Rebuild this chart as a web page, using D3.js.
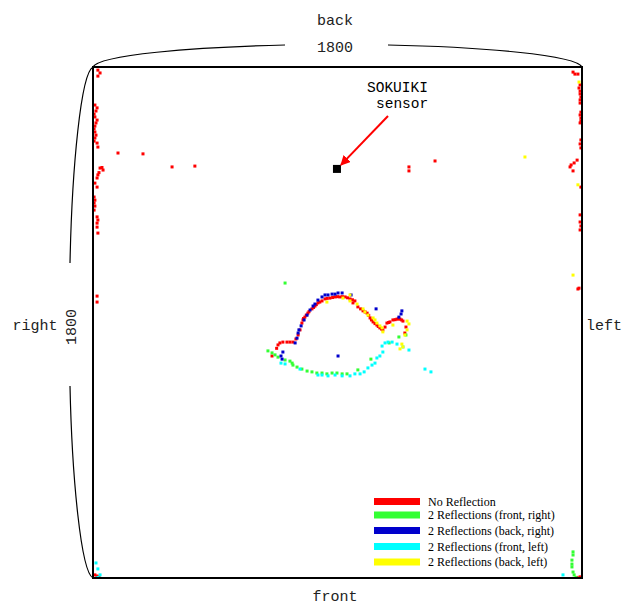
<!DOCTYPE html>
<html>
<head>
<meta charset="utf-8">
<script src="https://cdn.jsdelivr.net/npm/d3@7"></script>
<style>
body { margin: 0; background: #fff; }
svg { display: block; }
</style>
</head>
<body>
<script>
// room is 1800 x 1800 mm, points are [x, y] in mm (y = 0 at front)
var roomSize = 1800;
var sensorPos = [898, 1441];

var noReflection = [
  [18,1789],[26,1779],[18,1768],
  [7,1666],[15,1656],[11,1645],[4,1634],[7,1624],[15,1613],[11,1603],[7,1592],[4,1582],[7,1571],[11,1560],[7,1550],[4,1539],[15,1532],[18,1518],
  [92,1497],[184,1494],[291,1448],[375,1451],
  [37,1437],[33,1446],[26,1444],[22,1428],[18,1420],[15,1409],[7,1391],[15,1377],
  [4,1342],[7,1331],[4,1321],[7,1310],[4,1296],[15,1272],[18,1261],[15,1250],[15,1236],[18,1215],
  [15,993],[15,972],
  [1163,1448],[1163,1434],[1259,1469],
  [1767,1782],[1774,1775],[1785,1775],
  [1793,1737],[1789,1726],[1793,1715],[1793,1705],[1796,1694],[1793,1684],[1793,1673],
  [1796,1641],[1793,1631],[1796,1620],[1796,1610],[1793,1603],
  [1796,1543],[1793,1529],[1796,1515],
  [1782,1472],[1771,1462],[1756,1448],[1767,1434],[1760,1455],
  [1796,1377],
  [1793,1279],[1793,1254],[1796,1240],[1793,1226],
  [1789,1021],[1785,1018],
  [7,11],[15,7],[22,4],[1782,2],[1793,4],
  [659,782],[676,809],[681,821],[688,828],[699,831],[714,831],[725,831],[736,831],[747,842],[755,856],
  [762,874],[769,898],[773,909],[775,914],[780,919],[785,926],[791,933],[795,938],[806,948],[812,953],
  [817,958],[822,963],[828,969],[835,972],[843,976],[854,983],[862,985],[872,986],[882,988],[891,990],
  [900,991],[909,990],[918,991],[928,990],[937,987],[946,983],[955,980],[964,976],[957,969],[975,955],
  [985,948],[994,941],[1002,937],[1009,933],[1015,925],[1020,916],[1025,909],[1031,902],[1038,896],
  [1045,891],[1050,886],[1056,881],[1062,877],[1067,874],[1075,884],[1082,898],[1088,900],[1093,902],
  [1104,909],[1112,910],[1119,912],[1125,913],[1130,912],[1136,909],[1141,905],[1152,884],[1148,863]
];

var frontRight = [
  [707,1039],
  [644,800],[659,793],[670,786],[681,778],[707,768],[725,764],[733,757],[736,750],[751,743],[769,736],
  [788,729],[806,726],[824,722],[843,722],[861,719],[880,722],[898,722],[917,719],[935,719],[975,733],
  [1023,771],[1126,849],[1152,856],[1090,828],
  [1767,92],[1767,81],[1763,63],[1763,49],[1763,39],[1767,21],[1771,11],[1778,2]
];

var backRight = [
  [692,782],[696,771],[699,796],
  [744,828],[751,845],[755,863],[758,874],[766,888],[777,909],[788,926],[799,944],[810,958],[817,965],
  [828,979],[843,990],[854,997],[865,997],[880,1000],[891,1000],[902,1004],[917,1004],[950,997],
  [1042,948],[1137,941],[1134,930],[1126,919],[902,782]
];

var frontLeft = [
  [692,757],[707,754],[762,736],[828,715],[843,715],[865,712],[891,715],[917,712],[946,712],[964,719],
  [983,719],[998,726],[1012,740],[1027,750],[1038,757],[1045,775],[1056,782],[1067,796],[1064,817],
  [1075,828],[1086,831],[1101,831],[1119,824],[1141,814],[1163,803],[1222,736],[1244,726],
  [11,53],[18,32],[26,11],[18,2],[1730,11]
];

var backLeft = [
  [1590,1483],[1789,1747],[1785,1385],[1767,1067],
  [861,972],[920,986],[946,997],[972,965],[946,976],[994,948],[1001,937],[1012,926],[1031,916],[1038,909],
  [1045,898],[1056,888],[1064,881],[1067,867],[1104,891],[1156,905],[1163,895],[1156,874],[1148,856],
  [1137,824],[1141,814],[1130,807]
];

var seriesNames = ["No Reflection", "2 Reflections (front, right)", "2 Reflections (back, right)",
                   "2 Reflections (front, left)", "2 Reflections (back, left)"];
var seriesColors = ["#ff0000", "#33ff33", "#0000cc", "#00ffff", "#ffff00"];
var seriesData = [noReflection, frontRight, backRight, frontLeft, backLeft];

var width = 636, height = 606;
var x = d3.scaleLinear().domain([0, roomSize]).range([93, 582]);
var y = d3.scaleLinear().domain([0, roomSize]).range([578, 67]);

var svg = d3.select("body").append("svg")
    .attr("width", width)
    .attr("height", height);

var mono = "'Liberation Mono', 'DejaVu Sans Mono', monospace";

// braces for the room size
var x0 = x(0), x1 = x(roomSize), y0 = y(0), y1 = y(roomSize);
var braces = [
  "M" + x0 + "," + y1 + " C" + (x0 + 6) + "," + (y1 - 12) + " " + (x0 + 100) + "," + (y1 - 20) + " 285,45",
  "M388,45 C" + (x1 - 100) + "," + (y1 - 20) + " " + (x1 - 6) + "," + (y1 - 12) + " " + x1 + "," + y1,
  "M" + x0 + "," + y1 + " C" + (x0 - 12) + "," + (y1 + 6) + " " + (x0 - 21) + "," + (y1 + 100) + " 70,263",
  "M70,386 C" + (x0 - 21) + "," + (y0 - 100) + " " + (x0 - 12) + "," + (y0 - 6) + " " + x0 + "," + y0
];
svg.selectAll("path.brace").data(braces).enter().append("path")
    .attr("class", "brace")
    .attr("d", function(d) { return d; })
    .attr("fill", "none")
    .attr("stroke", "#000")
    .attr("stroke-width", 1.2);

// points
svg.selectAll("g.series").data(seriesData).enter().append("g")
    .attr("class", "series")
    .attr("fill", function(d, i) { return seriesColors[i]; })
    .selectAll("rect")
    .data(function(d) { return d; })
    .enter().append("rect")
    .attr("x", function(d) { return x(d[0]) - 1.5; })
    .attr("y", function(d) { return y(d[1]) - 1.5; })
    .attr("width", 3)
    .attr("height", 3);

// room outline
svg.append("rect")
    .attr("x", x0).attr("y", y1)
    .attr("width", x1 - x0).attr("height", y0 - y1)
    .attr("fill", "none")
    .attr("stroke", "#000")
    .attr("stroke-width", 2);

// sensor
svg.append("rect")
    .attr("x", x(sensorPos[0]) - 4).attr("y", y(sensorPos[1]) - 4)
    .attr("width", 8).attr("height", 8)
    .attr("fill", "#000");

svg.append("defs").append("marker")
    .attr("id", "head")
    .attr("viewBox", "0 0 10 10")
    .attr("refX", 9).attr("refY", 5)
    .attr("markerWidth", 5).attr("markerHeight", 5)
    .attr("orient", "auto")
    .append("path")
    .attr("d", "M0,0 L10,5 L0,10 z")
    .attr("fill", "#ff0000");

svg.append("line")
    .attr("x1", 388).attr("y1", 116)
    .attr("x2", x(sensorPos[0]) + 4).attr("y2", y(sensorPos[1]) - 4)
    .attr("stroke", "#ff0000")
    .attr("stroke-width", 2)
    .attr("marker-end", "url(#head)");

svg.append("text").attr("x", 367).attr("y", 92).text("SOKUIKI")
    .attr("font-family", mono).attr("font-size", 14.5);
svg.append("text").attr("x", 376).attr("y", 108).text("sensor")
    .attr("font-family", mono).attr("font-size", 14.5);

// side labels
var labels = [
  {t: "back", x: 335, y: 25, a: "middle"},
  {t: "1800", x: 335, y: 52, a: "middle"},
  {t: "front", x: 335, y: 601, a: "middle"},
  {t: "left", x: 604, y: 330, a: "middle"},
  {t: "right", x: 35, y: 330, a: "middle"}
];
svg.selectAll("text.lbl").data(labels).enter().append("text")
    .attr("class", "lbl")
    .attr("x", function(d) { return d.x; })
    .attr("y", function(d) { return d.y; })
    .attr("text-anchor", function(d) { return d.a; })
    .attr("font-family", mono)
    .attr("font-size", 15)
    .attr("fill", "#222")
    .text(function(d) { return d.t; });

svg.append("text")
    .attr("transform", "translate(76,327) rotate(-90)")
    .attr("text-anchor", "middle")
    .attr("font-family", mono)
    .attr("font-size", 15)
    .attr("fill", "#222")
    .text("1800");

// legend
var legendY = [501.5, 515, 530.5, 546.5, 562];
var legend = svg.selectAll("g.legend").data(seriesNames).enter().append("g")
    .attr("class", "legend")
    .attr("transform", function(d, i) { return "translate(374," + legendY[i] + ")"; });
legend.append("rect")
    .attr("x", 0).attr("y", -3.5)
    .attr("width", 46).attr("height", 7)
    .attr("fill", function(d, i) { return seriesColors[i]; });
legend.append("text")
    .attr("x", 54).attr("y", 4)
    .attr("font-family", "'Liberation Serif', 'DejaVu Serif', serif")
    .attr("font-size", 12)
    .text(function(d) { return d; });
</script>
</body>
</html>
